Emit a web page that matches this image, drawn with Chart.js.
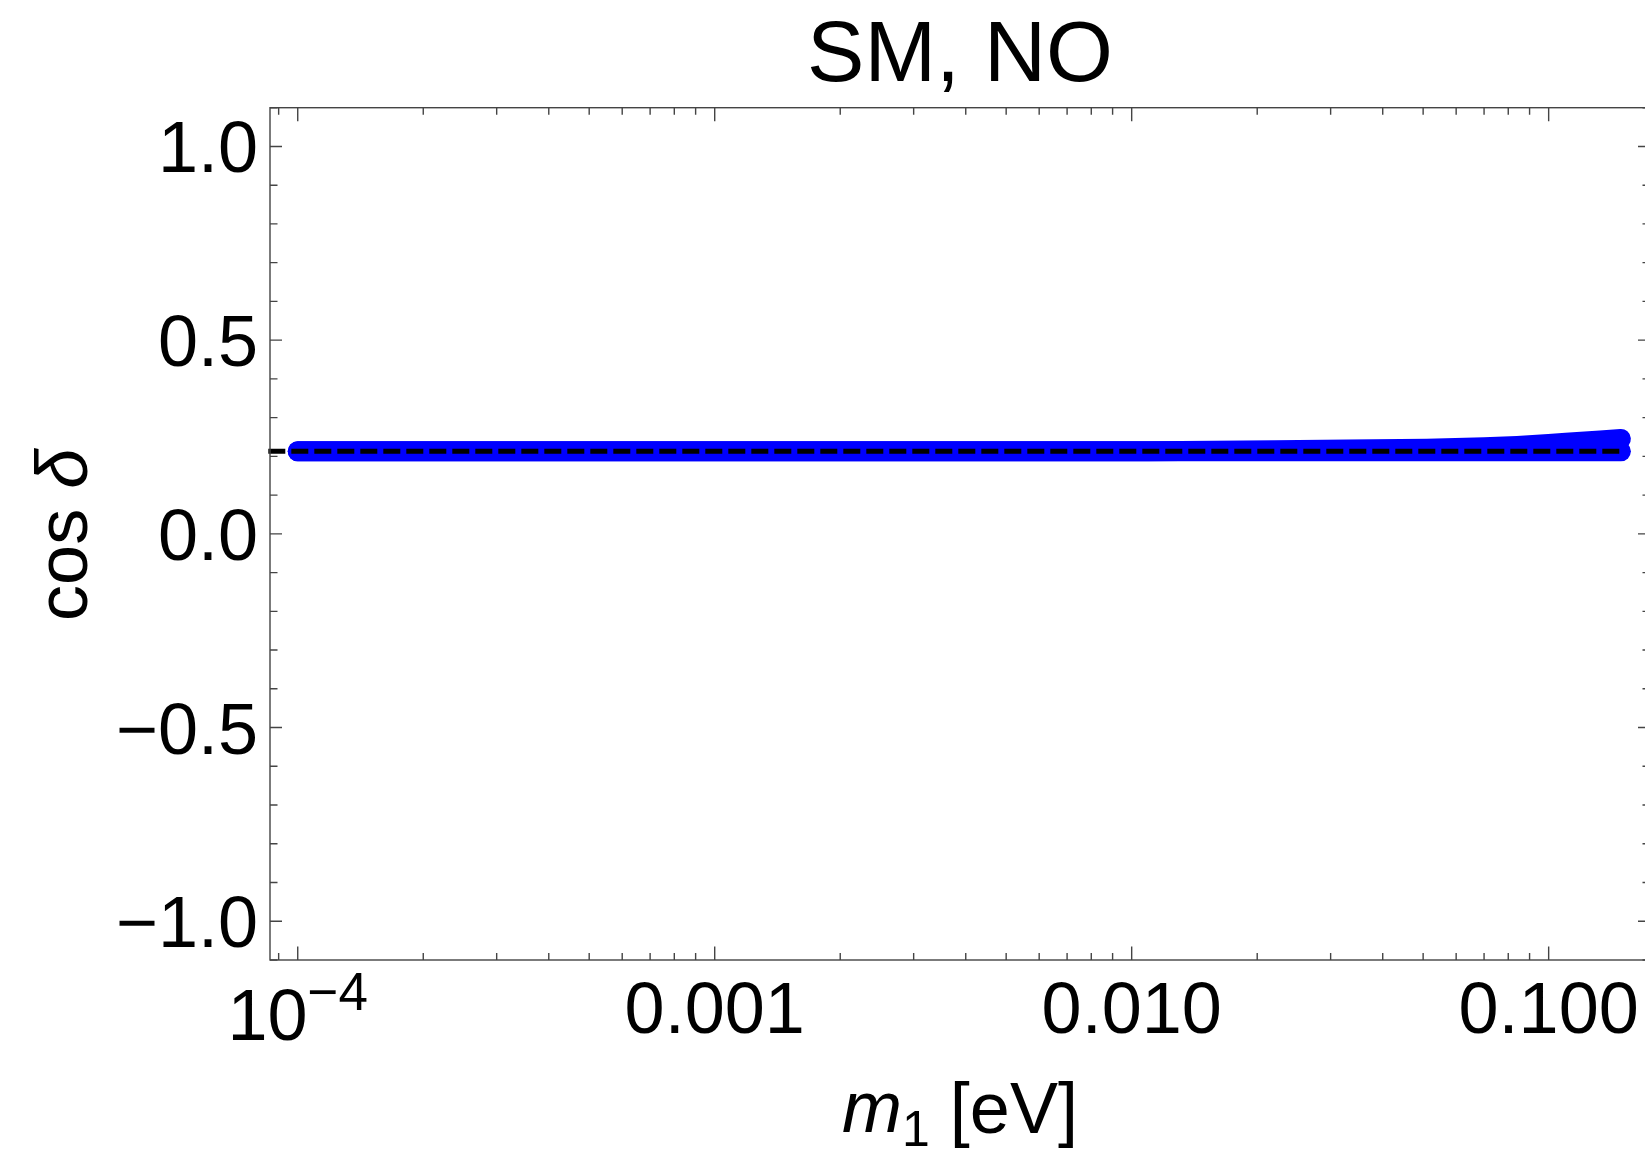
<!DOCTYPE html>
<html>
<head>
<meta charset="utf-8">
<title>SM, NO</title>
<script src="https://cdn.jsdelivr.net/npm/chart.js@4.4.1/dist/chart.umd.min.js"></script>
<style>
  html, body { margin: 0; padding: 0; background: #fff; overflow: hidden; }
  canvas { display: block; }
</style>
</head>
<body>
<canvas id="cosDeltaChart" width="1660" height="1157"></canvas>
<script>
// lightest neutrino mass m1 [eV] and the spread of cos(delta) over the scan
const m1Values     = [1.0e-4, 0.001, 0.011, 0.022,  0.033,  0.051,  0.070,  0.084, 0.100, 0.110, 0.133, 0.149];
const cosDeltaLow  = [0.213,  0.213, 0.213, 0.213,  0.213,  0.213,  0.213,  0.213, 0.213, 0.213, 0.213, 0.213];
const cosDeltaHigh = [0.213,  0.213, 0.213, 0.2155, 0.2175, 0.2195, 0.2235, 0.227, 0.232, 0.235, 0.241, 0.245];

// constant reference value (dashed line)
const refM1       = [8.5e-5, 0.149];
const refCosDelta = [0.213, 0.213];

// axis ticks
const xMajorTicks = [1e-4, 1e-3, 1e-2, 1e-1];
const xTickLabels = ['10^\u22124', '0.001', '0.010', '0.100'];
const yMajorTicks = [-1, -0.5, 0, 0.5, 1];
const yTickLabels = ['\u22121.0', '\u22120.5', '0.0', '0.5', '1.0'];

const FONT = '"Liberation Sans", Arial, Helvetica, sans-serif';

function toPoints(xs, ys) {
    return xs.map((x, i) => ({ x: x, y: ys[i] }));
}

// frame, inward ticks and all the text around the plot
const framePlugin = {
    id: 'frame',
    afterDraw(chart) {
        const ctx = chart.ctx;
        const a = chart.chartArea;
        const xs = chart.scales.x;
        const ys = chart.scales.y;

        ctx.save();
        ctx.strokeStyle = '#444';
        ctx.lineWidth = 1.4;
        ctx.strokeRect(a.left, a.top, a.right - a.left, a.bottom - a.top);

        // y ticks every 0.1, longer on the labelled ones
        ctx.beginPath();
        for (let k = -11; k <= 11; k++) {
            const v = k / 10;
            const py = ys.getPixelForValue(v);
            const len = (k % 5 === 0) ? 12 : 7.5;
            ctx.moveTo(a.left, py);
            ctx.lineTo(a.left + len, py);
            ctx.moveTo(a.right, py);
            ctx.lineTo(a.right - len, py);
        }
        // x ticks: decades and 2..9 in between
        for (let d = -5; d <= -1; d++) {
            for (let m = 1; m <= 9; m++) {
                const v = m * Math.pow(10, d);
                if (v < xs.min || v > xs.max) continue;
                const px = xs.getPixelForValue(v);
                const len = (m === 1) ? 13.5 : 7;
                ctx.moveTo(px, a.bottom);
                ctx.lineTo(px, a.bottom - len);
                ctx.moveTo(px, a.top);
                ctx.lineTo(px, a.top + len);
            }
        }
        ctx.stroke();

        ctx.fillStyle = '#000';

        // y tick labels
        ctx.font = '72px ' + FONT;
        ctx.textAlign = 'right';
        ctx.textBaseline = 'alphabetic';
        yMajorTicks.forEach((v, i) => {
            ctx.fillText(yTickLabels[i], a.left - 12, ys.getPixelForValue(v) + 26);
        });

        // x tick labels, "10^-4" drawn with a raised exponent
        xMajorTicks.forEach((v, i) => {
            const px = xs.getPixelForValue(v);
            const label = xTickLabels[i];
            if (label.indexOf('^') >= 0) {
                const parts = label.split('^');
                ctx.font = '72px ' + FONT;
                const wb = ctx.measureText(parts[0]).width;
                ctx.font = '53px ' + FONT;
                const we = ctx.measureText(parts[1]).width;
                const x0 = px - (wb + we) / 2;
                ctx.textAlign = 'left';
                ctx.font = '72px ' + FONT;
                ctx.fillText(parts[0], x0, a.bottom + 80);
                ctx.font = '53px ' + FONT;
                ctx.fillText(parts[1], x0 + wb, a.bottom + 50);
            } else {
                ctx.font = '72px ' + FONT;
                ctx.textAlign = 'center';
                ctx.fillText(label, px, a.bottom + 73);
            }
        });

        const cx = (a.left + a.right) / 2;

        // title
        ctx.font = '86px ' + FONT;
        ctx.textAlign = 'center';
        ctx.fillText('SM, NO', cx, 81);

        // x axis title: m_1 [eV]
        ctx.textAlign = 'left';
        ctx.font = 'italic 72px ' + FONT;
        const wm = ctx.measureText('m').width;
        ctx.font = '50px ' + FONT;
        const w1 = ctx.measureText('1').width;
        ctx.font = '72px ' + FONT;
        const wu = ctx.measureText(' [eV]').width;
        let tx = cx - (wm + w1 + wu) / 2;
        ctx.font = 'italic 72px ' + FONT;
        ctx.fillText('m', tx, 1132);
        tx += wm;
        ctx.font = '50px ' + FONT;
        ctx.fillText('1', tx, 1146);
        tx += w1;
        ctx.font = '72px ' + FONT;
        ctx.fillText(' [eV]', tx, 1133);

        // y axis title: cos δ, rotated
        ctx.save();
        ctx.translate(86.5, (a.top + a.bottom) / 2 + 1);
        ctx.rotate(-Math.PI / 2);
        ctx.font = '72px ' + FONT;
        const wc = ctx.measureText('cos ').width;
        ctx.font = 'italic 72px ' + FONT;
        const wd = ctx.measureText('\u03b4').width;
        ctx.textAlign = 'left';
        ctx.font = '72px ' + FONT;
        ctx.fillText('cos ', -(wc + wd) / 2, 0);
        ctx.font = 'italic 72px ' + FONT;
        ctx.fillText('\u03b4', -(wc + wd) / 2 + wc, 0);
        ctx.restore();

        ctx.restore();
    }
};

new Chart(document.getElementById('cosDeltaChart'), {
    type: 'line',
    data: {
        datasets: [
            {
                label: 'reference',
                data: toPoints(refM1, refCosDelta),
                borderColor: '#000000',
                borderWidth: 5,
                borderDash: [17, 6],
                borderCapStyle: 'butt',
                pointRadius: 0,
                fill: false,
                clip: false
            },
            {
                label: 'scan, lower edge',
                data: toPoints(m1Values, cosDeltaLow),
                borderColor: '#0000ff',
                borderWidth: 20,
                borderCapStyle: 'round',
                borderJoinStyle: 'round',
                pointRadius: 0,
                fill: false
            },
            {
                label: 'scan, upper edge',
                data: toPoints(m1Values, cosDeltaHigh),
                borderColor: '#0000ff',
                backgroundColor: '#0000ff',
                borderWidth: 20,
                borderCapStyle: 'round',
                borderJoinStyle: 'round',
                pointRadius: 0,
                fill: '-1'
            }
        ]
    },
    options: {
        responsive: false,
        animation: false,
        devicePixelRatio: 1,
        layout: { padding: { left: 270, top: 107.7, right: 10, bottom: 197 } },
        plugins: {
            legend: { display: false },
            tooltip: { enabled: false }
        },
        scales: {
            x: { type: 'logarithmic', min: 8.58e-5, max: 0.175, display: false },
            y: { type: 'linear', min: -1.1, max: 1.1, display: false }
        }
    },
    plugins: [framePlugin]
});
</script>
</body>
</html>
